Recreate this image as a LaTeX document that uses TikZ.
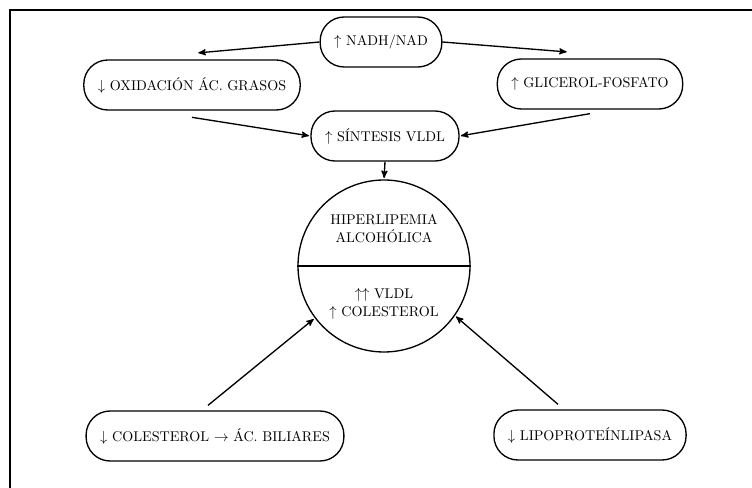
\documentclass[tikz,border=0pt]{standalone}
\usetikzlibrary{arrows}
\begin{document}
\begin{tikzpicture}[x=0.75pt,y=-0.75pt,line width=1pt]
  \tikzstyle{box}=[draw,rounded corners=18pt,minimum height=37.5pt,inner xsep=10.5pt,font=\fontsize{10.6}{14}\selectfont]
  \tikzstyle{txt}=[align=center,font=\fontsize{10.6}{13.5}\selectfont]
  \tikzstyle{line}=[draw,-stealth',shorten >=1pt]
  \useasboundingbox (0,0) rectangle (752,488);
  % frame
  \draw (10,488) -- (10,10) -- (752,10);
  \node[box] (nadh) at (381,42) {$\uparrow$ NADH/NAD};
  \node[box] (oxid) at (192,85) {$\downarrow$ OXIDACIÓN ÁC. GRASOS};
  \node[box] (glic) at (590,84) {$\uparrow$ GLICEROL-FOSFATO};
  \node[box] (sint) at (385,136) {$\uparrow$ SÍNTESIS VLDL};
  \node[circle,draw,minimum size=129pt,inner sep=0pt] (hiper) at (384,266) {};
  \draw (hiper.west) -- (hiper.east);
  \node[txt] (alco) at (384,229) {HIPERLIPEMIA\\ALCOHÓLICA};
  \node[txt] (vldl) at (384,304) {$\uparrow\uparrow$ VLDL\\$\uparrow$ COLESTEROL};
  \node[box] (cole) at (215,436) {$\downarrow$ COLESTEROL $\rightarrow$ ÁC. BILIARES};
  \node[box] (lipo) at (590,435) {$\downarrow$ LIPOPROTEÍNLIPASA};
  \coordinate (oxidtip) at (197,53);
  \coordinate (glictip) at (568,52);
  % arrows
  \path[line] (nadh.west) -- (oxidtip);
  \path[line] (nadh.east) -- (glictip);
  \path[line] ([yshift=-5]oxid.south) -- (sint.west);
  \path[line] ([yshift=-3]glic.south) -- (sint.east);
  \path[line] (sint.south) -- (hiper.north);
  \path[line] ([shift={(-7,-5)}]cole.north) -- (hiper.217);
  \path[line] ([shift={(-32,-5)}]lipo.north) -- (hiper.325);
\end{tikzpicture}
\end{document}
